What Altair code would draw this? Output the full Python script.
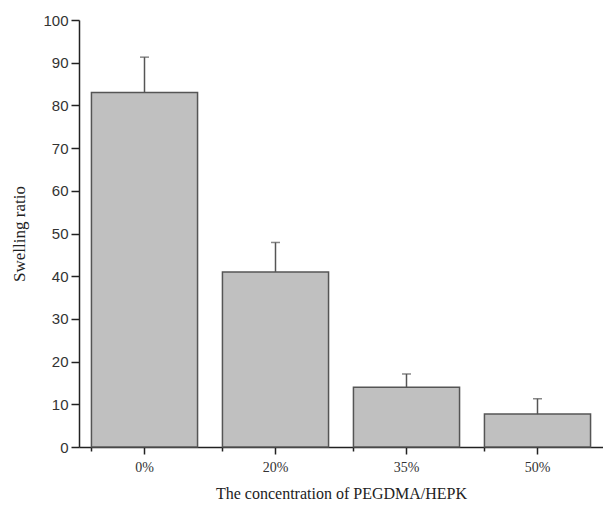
import altair as alt
import pandas as pd

categories = ["0%", "20%", "35%", "50%"]
swelling = [83.0, 41.0, 14.0, 7.7]
errors = [8.3, 6.9, 3.1, 3.6]

df = pd.DataFrame({"cat": categories, "val": swelling, "err": errors})
df["top"] = df["val"] + df["err"]

yvals = list(range(0, 101, 5))

x_enc = alt.X(
    "cat:N", sort=categories,
    scale=alt.Scale(paddingInner=0.19, paddingOuter=0.095),
    axis=alt.Axis(
        title="The concentration of PEGDMA/HEPK", labelAngle=0, orient="bottom",
        labelFont="Liberation Serif", labelFontSize=14, labelColor="#333",
        titleFont="Liberation Serif", titleFontSize=16, titleFontWeight="normal",
        titleColor="#222", titlePadding=11, labelPadding=6,
        tickSize=7, tickColor="#222", domainColor="#222", domainWidth=1.5, tickWidth=1.5,
    ),
)
y_enc = alt.Y(
    "val:Q", scale=alt.Scale(domain=[0, 100], nice=False),
    axis=alt.Axis(
        title="Swelling ratio", values=yvals,
        labelExpr="datum.value % 10 === 0 ? datum.label : ''",
        tickSize={"condition": {"test": "datum.value % 10 === 0", "value": 8}, "value": 4},
        labelFont="Liberation Sans", labelFontSize=15, labelColor="#333",
        titleFont="Liberation Serif", titleFontSize=17, titleFontWeight="normal",
        titleColor="#222", titlePadding=14, labelPadding=3,
        tickColor="#222", domainColor="#222", domainWidth=1.5, tickWidth=1.5,
        grid=False,
    ),
)

bars = alt.Chart(df).mark_bar(color="#c0c0c0", stroke="#555", strokeWidth=1.5).encode(
    x=x_enc, y=y_enc
)
err = alt.Chart(df).mark_rule(color="#555", strokeWidth=1.5).encode(
    x=alt.X("cat:N", sort=categories, axis=None), y="val:Q", y2="top:Q"
)
cap = alt.Chart(df).mark_tick(color="#555", size=9, thickness=1.5).encode(
    x=alt.X("cat:N", sort=categories, axis=None), y="top:Q"
)
minor = alt.Chart(df).mark_tick(opacity=0).encode(
    x=alt.X("cat:N", sort=categories,
            axis=alt.Axis(orient="bottom", bandPosition=0, labels=False, title=None,
                          domain=False, tickSize=4, tickWidth=1.5, tickColor="#222")),
    y="val:Q",
)

chart = alt.layer(bars, err, cap, minor).resolve_axis(x="independent").properties(
    width=524, height=427,
    autosize=alt.AutoSizeParams(type="none"),
    padding={"left": 79, "top": 20, "right": 0, "bottom": 61},
).configure_view(stroke=None)

chart.save("out.html", embed_options={"renderer": "svg", "actions": False})
